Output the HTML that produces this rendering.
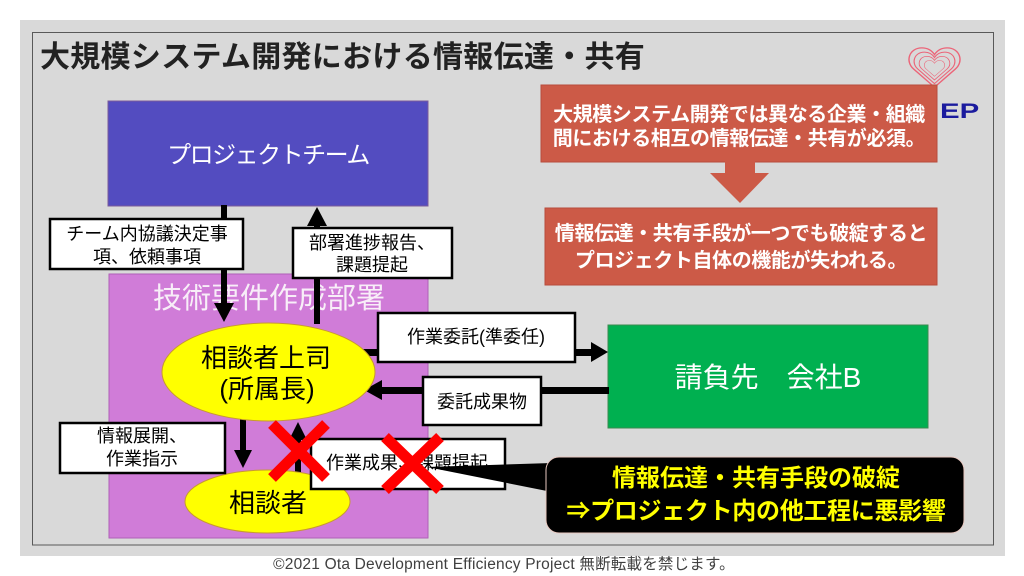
<!DOCTYPE html>
<html><head><meta charset="utf-8"><style>
html,body{margin:0;padding:0;background:#fff;width:1024px;height:576px;overflow:hidden;}
svg{display:block;}
text{font-family:"Liberation Sans","Noto Sans CJK JP",sans-serif;}
</style></head><body>
<svg width="1024" height="576" viewBox="0 0 1024 576" xmlns="http://www.w3.org/2000/svg">
<defs>
<path id="hrt" d="M50,88 L12,50 C-4,34 4,6 27,6 C39,6 46,13 50,20 C54,13 61,6 73,6 C96,6 104,34 88,50 Z"/>
</defs>
<rect x="0" y="0" width="1024" height="576" fill="#fff"/>
<rect x="20" y="20" width="985" height="536" fill="#D9D9D9"/>
<rect x="32.5" y="32.5" width="961" height="512.5" fill="none" stroke="#595959" stroke-width="1"/>

<!-- title -->
<text x="40" y="67" font-size="30" font-weight="bold" fill="#222" letter-spacing="0.3">大規模システム開発における情報伝達・共有</text>

<!-- logo -->
<g fill="none" stroke="#EC6478" stroke-width="2.6">
 <g transform="translate(907,45) scale(0.55,0.48)">
  <use href="#hrt" vector-effect="non-scaling-stroke"/>
  <use href="#hrt" transform="translate(50,50) scale(0.8) translate(-50,-50)"/>
  <use href="#hrt" transform="translate(50,50) scale(0.6) translate(-50,-50)"/>
  <use href="#hrt" transform="translate(50,50) scale(0.4) translate(-50,-50)"/>
 </g>
</g>
<text x="0" y="0" font-size="21" font-weight="bold" fill="#1B1B9E" transform="translate(940,118) scale(1.4,1)">EP</text>

<!-- red boxes -->
<rect x="541" y="85" width="396" height="77" fill="#CC5A47" stroke="#B84C3C" stroke-width="1"/>
<text x="739" y="121" font-size="20" font-weight="bold" fill="#fff" text-anchor="middle" letter-spacing="-0.4">大規模システム開発では異なる企業・組織</text>
<text x="739" y="145" font-size="20" font-weight="bold" fill="#fff" text-anchor="middle" letter-spacing="-0.4">間における相互の情報伝達・共有が必須。</text>
<polygon points="725,161 755,161 755,173 769,173 740,203 710,173 725,173" fill="#CC5A47"/>
<rect x="545" y="208" width="392" height="77" fill="#CC5A47" stroke="#B84C3C" stroke-width="1"/>
<text x="741" y="240" font-size="20" font-weight="bold" fill="#fff" text-anchor="middle" letter-spacing="-0.4">情報伝達・共有手段が一つでも破綻すると</text>
<text x="741" y="267" font-size="20" font-weight="bold" fill="#fff" text-anchor="middle" letter-spacing="-0.4">プロジェクト自体の機能が失われる。</text>

<!-- project team -->
<rect x="108" y="101" width="320" height="105" fill="#534CC0" stroke="#7A5A9A" stroke-width="1"/>
<text x="268" y="163" font-size="24" fill="#fff" text-anchor="middle" letter-spacing="-1.5">プロジェクトチーム</text>

<!-- dept box -->
<rect x="109" y="274" width="319" height="264" fill="#D07CD8" stroke="#B060B8" stroke-width="1"/>
<text x="269" y="308" font-size="29" fill="#F8EEF8" text-anchor="middle">技術要件作成部署</text>

<!-- green -->
<rect x="608" y="325" width="320" height="103" fill="#00B050" stroke="#3A8A50" stroke-width="1"/>
<text x="768" y="387" font-size="28" fill="#fff" text-anchor="middle">請負先　会社B</text>

<!-- arrows -->
<g fill="#000" stroke="none">
 <rect x="221" y="205" width="6" height="100"/>
 <polygon points="214,303 234,303 224,322"/>
 <rect x="314" y="224" width="6" height="100"/>
 <polygon points="307,226 327,226 317,207"/>
 <rect x="360" y="349" width="233" height="7"/>
 <polygon points="591,342 591,362 608,352"/>
 <rect x="380" y="387" width="229" height="7"/>
 <polygon points="382,380 382,400 364,390"/>
 <rect x="240" y="415" width="6" height="37"/>
 <polygon points="234,450 252,450 243,468"/>
 <rect x="295" y="438" width="6" height="35"/>
 <polygon points="289,440 307,440 298,422"/>
</g>

<!-- ellipses -->
<ellipse cx="268.5" cy="372" rx="106.5" ry="49" fill="#FFFF00" stroke="#C89A30" stroke-width="1"/>
<text x="266" y="367" font-size="26" fill="#000" text-anchor="middle">相談者上司</text>
<text x="267" y="398" font-size="26" fill="#000" text-anchor="middle">(所属長)</text>
<ellipse cx="267.5" cy="501.5" rx="82.5" ry="31.5" fill="#FFFF00" stroke="#C89A30" stroke-width="1"/>
<text x="268" y="512" font-size="26" fill="#000" text-anchor="middle">相談者</text>

<!-- label boxes -->
<g fill="#fff" stroke="#000" stroke-width="2.5">
 <rect x="50" y="219" width="193" height="50"/>
 <rect x="293" y="228" width="159" height="50"/>
 <rect x="378" y="313" width="197" height="49"/>
 <rect x="423" y="377" width="118" height="48"/>
 <rect x="60" y="423" width="165" height="50"/>
 <rect x="311" y="439" width="194" height="50"/>
</g>
<g font-size="18" fill="#000" text-anchor="middle">
 <text x="147" y="240">チーム内協議決定事</text>
 <text x="147" y="263">項、依頼事項</text>
 <text x="372" y="249">部署進捗報告、</text>
 <text x="372" y="271">課題提起</text>
 <text x="476" y="343">作業委託(準委任)</text>
 <text x="482" y="408">委託成果物</text>
 <text x="142" y="442">情報展開、</text>
 <text x="142" y="465">作業指示</text>
 <text x="407" y="469">作業成果、課題提起</text>
</g>

<!-- callout -->
<polygon points="427,467 552,463 552,492" fill="#000"/>
<rect x="546" y="457" width="418" height="76" rx="13" ry="13" fill="#000" stroke="#E8C8C0" stroke-width="1"/>
<text x="756" y="486" font-size="24" font-weight="bold" fill="#FFFF00" text-anchor="middle">情報伝達・共有手段の破綻</text>
<text x="756" y="519" font-size="24" font-weight="bold" fill="#FFFF00" text-anchor="middle" letter-spacing="-0.3">⇒プロジェクト内の他工程に悪影響</text>

<!-- red X marks -->
<g stroke="#FF0000" stroke-width="11" stroke-linecap="butt">
 <line x1="272" y1="424" x2="326" y2="478"/>
 <line x1="326" y1="424" x2="272" y2="478"/>
 <line x1="385" y1="437" x2="440" y2="490"/>
 <line x1="440" y1="437" x2="385" y2="490"/>
</g>

<!-- footer -->
<text x="504" y="569" font-size="15.5" fill="#404040" text-anchor="middle" letter-spacing="0.2">©2021  Ota Development Efficiency Project 無断転載を禁じます。</text>
</svg>
</body></html>
